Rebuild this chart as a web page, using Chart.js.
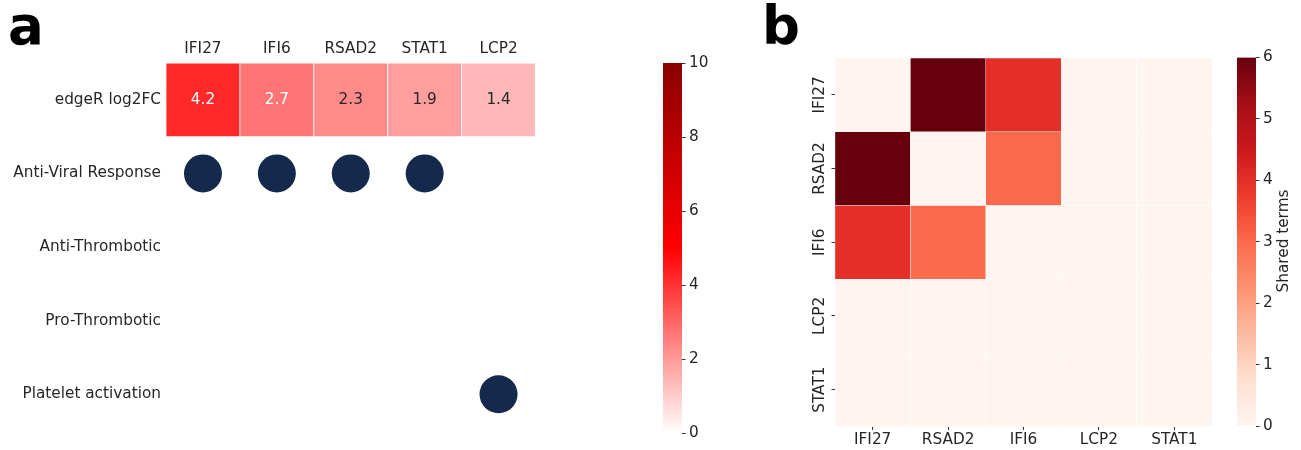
<!DOCTYPE html>
<html>
<head>
<meta charset="utf-8">
<script src="https://cdn.jsdelivr.net/npm/chart.js@4.4.1/dist/chart.umd.min.js"></script>
<style>
  body { margin: 0; background: #fff; width: 1301px; height: 450px; position: relative; overflow: hidden; font-family: 'DejaVu Sans', sans-serif; }
  canvas { position: absolute; top: 0; }
  .panel { position: absolute; font-family: 'DejaVu Sans', sans-serif; font-weight: bold; font-size: 53px; line-height: 53px; color: #000; }
  #cbarLabel { position: absolute; left: 1183px; top: 232px; width: 200px; text-align: center; font-size: 15.3px; line-height: 18px; color: #262626; transform: rotate(-90deg); }
</style>
</head>
<body>
<div class="panel" style="left:8px;top:-1px">a</div>
<div class="panel" style="left:762px;top:-1px">b</div>
<canvas id="chartA" width="560" height="450" style="left:0"></canvas>
<canvas id="cbarA" width="100" height="450" style="left:640px"></canvas>
<canvas id="chartB" width="460" height="450" style="left:760px"></canvas>
<canvas id="cbarB" width="81" height="450" style="left:1220px"></canvas>
<div id="cbarLabel">Shared terms</div>
<script>
// Panel a : genes x termes
const genesA = ['IFI27', 'IFI6', 'RSAD2', 'STAT1', 'LCP2'];
const termsA = ['edgeR log2FC', 'Anti-Viral Response', 'Anti-Thrombotic', 'Pro-Thrombotic', 'Platelet activation'];
const log2FC = [4.2, 2.7, 2.3, 1.9, 1.4];
const antiViral = [1, 1, 1, 1, 0];
const antiThrombotic = [0, 0, 0, 0, 0];
const proThrombotic = [0, 0, 0, 0, 0];
const plateletActivation = [0, 0, 0, 0, 1];
const cbarATicks = [0, 2, 4, 6, 8, 10];

// Panel b : termes partages entre genes
const genesB = ['IFI27', 'RSAD2', 'IFI6', 'LCP2', 'STAT1'];
const sharedIFI27 = [0, 6, 4, 0, 0];
const sharedRSAD2 = [6, 0, 3, 0, 0];
const sharedIFI6 = [4, 3, 0, 0, 0];
const sharedLCP2 = [0, 0, 0, 0, 0];
const sharedSTAT1 = [0, 0, 0, 0, 0];
const cbarBTicks = [0, 1, 2, 3, 4, 5, 6];

const FONT_SIZE = 15.3;
Chart.defaults.font.family = "'DejaVu Sans', sans-serif";
Chart.defaults.font.size = FONT_SIZE;
Chart.defaults.color = '#262626';

// Colormaps
const RED_STOPS = [[0, '#ffffff'], [0.5, '#ff0000'], [1, '#8b0000']];
const REDS_STOPS = [[0, '#fff5f0'], [0.125, '#fee0d2'], [0.25, '#fcbba1'], [0.375, '#fc9272'],
  [0.5, '#fb6a4a'], [0.625, '#ef3b2c'], [0.75, '#cb181d'], [0.875, '#a50f15'], [1, '#67000d']];

function hexToRgb(h) {
    const n = parseInt(h.slice(1), 16);
    return [(n >> 16) & 255, (n >> 8) & 255, n & 255];
}

function cmap(stops, t) {
    t = Math.max(0, Math.min(1, t));
    for (let i = 1; i < stops.length; i++) {
        if (t <= stops[i][0]) {
            const [t0, c0] = stops[i - 1];
            const [t1, c1] = stops[i];
            const f = (t - t0) / (t1 - t0);
            const a = hexToRgb(c0), b = hexToRgb(c1);
            return a.map((v, k) => Math.round(v + (b[k] - v) * f));
        }
    }
    return hexToRgb(stops[stops.length - 1][1]);
}

const rgbStr = c => `rgb(${c[0]}, ${c[1]}, ${c[2]})`;

function luminance(c) {
    const lin = c.map(v => {
        v /= 255;
        return v <= 0.03928 ? v / 12.92 : Math.pow((v + 0.055) / 1.055, 2.4);
    });
    return 0.2126 * lin[0] + 0.7152 * lin[1] + 0.0722 * lin[2];
}

const ticksFrom = labels => scale => {
    scale.ticks = labels.map((_, i) => ({ value: i }));
};

const tickMarks = { display: true, offset: false, drawOnChartArea: false, drawTicks: true, tickLength: 3.5, tickColor: '#333', lineWidth: 1 };

// Valeurs dans les cases du panel a
const cellLabels = {
    id: 'cellLabels',
    afterDatasetsDraw(chart) {
        const { ctx, scales: { x, y } } = chart;
        ctx.save();
        ctx.font = FONT_SIZE + "px 'DejaVu Sans'";
        ctx.textAlign = 'center';
        ctx.textBaseline = 'middle';
        log2FC.forEach((v, i) => {
            const c = cmap(RED_STOPS, v / 10);
            ctx.fillStyle = luminance(c) > 0.408 ? '#262626' : '#ffffff';
            ctx.fillText(v.toFixed(1), x.getPixelForValue(i), y.getPixelForValue(0));
        });
        ctx.restore();
    }
};

// Libelles verticaux du panel b
const rotatedRowLabels = {
    id: 'rotatedRowLabels',
    afterDraw(chart) {
        const { ctx, chartArea, scales: { y } } = chart;
        ctx.save();
        ctx.font = FONT_SIZE + "px 'DejaVu Sans'";
        ctx.fillStyle = '#262626';
        ctx.textAlign = 'center';
        ctx.textBaseline = 'middle';
        genesB.forEach((g, i) => {
            ctx.save();
            ctx.translate(chartArea.left - 15, y.getPixelForValue(i));
            ctx.rotate(-Math.PI / 2);
            ctx.fillText(g, 0, 0);
            ctx.restore();
        });
        ctx.restore();
    }
};

// Points du panel a
const dotRows = [null, antiViral, antiThrombotic, proThrombotic, plateletActivation];
const dots = [];
dotRows.forEach((row, r) => {
    if (!row) return;
    row.forEach((v, c) => { if (v) dots.push({ x: c, y: r }); });
});

new Chart(document.getElementById('chartA'), {
    type: 'bar',
    data: {
        datasets: [
            {
                type: 'bar',
                data: log2FC.map((v, i) => ({ x: i, y: [-0.5, 0.5] })),
                backgroundColor: log2FC.map(v => rgbStr(cmap(RED_STOPS, v / 10))),
                borderColor: 'rgba(255,255,255,0.85)',
                borderWidth: 0.75,
                borderSkipped: false,
                barPercentage: 1,
                categoryPercentage: 1
            },
            {
                type: 'scatter',
                data: dots,
                pointRadius: 19,
                pointHoverRadius: 19,
                backgroundColor: '#14294b',
                borderWidth: 0
            }
        ]
    },
    options: {
        responsive: false,
        animation: false,
        events: [],
        layout: { padding: { left: 0, top: 0, right: 24.5, bottom: 17 } },
        plugins: { legend: { display: false }, tooltip: { enabled: false } },
        scales: {
            x: {
                type: 'linear', position: 'top', min: -0.5, max: 4.5, offset: false,
                afterBuildTicks: ticksFrom(genesA),
                afterFit: s => { s.height = 63; },
                ticks: { callback: v => genesA[v], padding: 5, autoSkip: false, maxRotation: 0 },
                grid: { display: false, drawTicks: false, offset: false },
                border: { display: false }
            },
            y: {
                type: 'linear', reverse: true, min: -0.5, max: 4.5,
                afterBuildTicks: ticksFrom(termsA),
                afterFit: s => { s.width = 166; },
                ticks: { callback: v => termsA[v], padding: 5, autoSkip: false },
                grid: { display: false, drawTicks: false },
                border: { display: false }
            }
        }
    },
    plugins: [cellLabels]
});

const sharedRows = [sharedIFI27, sharedRSAD2, sharedIFI6, sharedLCP2, sharedSTAT1];

new Chart(document.getElementById('chartB'), {
    type: 'bar',
    data: {
        datasets: sharedRows.map((row, r) => ({
            data: row.map((v, c) => ({ x: c, y: [r - 0.5, r + 0.5] })),
            backgroundColor: row.map(v => rgbStr(cmap(REDS_STOPS, v / 6))),
            borderColor: 'rgba(255,255,255,0.7)',
            borderWidth: 0.5,
            borderSkipped: false,
            barPercentage: 1,
            categoryPercentage: 1,
            grouped: false
        }))
    },
    options: {
        responsive: false,
        animation: false,
        events: [],
        layout: { padding: { left: 0, top: 58, right: 8, bottom: 0 } },
        plugins: { legend: { display: false }, tooltip: { enabled: false } },
        scales: {
            x: {
                type: 'linear', position: 'bottom', min: -0.5, max: 4.5, offset: false,
                afterBuildTicks: ticksFrom(genesB),
                afterFit: s => { s.height = 23.5; },
                ticks: { callback: v => genesB[v], padding: 1, autoSkip: false, maxRotation: 0 },
                grid: tickMarks,
                border: { display: false }
            },
            y: {
                type: 'linear', reverse: true, min: -0.5, max: 4.5,
                afterBuildTicks: ticksFrom(genesB),
                afterFit: s => { s.width = 75; },
                ticks: { display: false },
                grid: tickMarks,
                border: { display: false }
            }
        }
    },
    plugins: [rotatedRowLabels]
});

function colorbar(canvasId, stops, tickValues, padding, axisWidth) {
    const max = tickValues[tickValues.length - 1];
    return new Chart(document.getElementById(canvasId), {
        type: 'bar',
        data: {
            labels: ['cb'],
            datasets: [{
                data: [[0, max]],
                backgroundColor: ctx => {
                    const area = ctx.chart.chartArea;
                    if (!area) return 'transparent';
                    const g = ctx.chart.ctx.createLinearGradient(0, area.bottom, 0, area.top);
                    stops.forEach(([t, c]) => g.addColorStop(t, c));
                    return g;
                },
                borderWidth: 0,
                barPercentage: 1,
                categoryPercentage: 1
            }]
        },
        options: {
            responsive: false,
            animation: false,
            events: [],
            layout: { padding: padding },
            plugins: { legend: { display: false }, tooltip: { enabled: false } },
            scales: {
                x: { display: false },
                y: {
                    position: 'right', min: 0, max: max,
                    afterBuildTicks: s => { s.ticks = tickValues.map(v => ({ value: v })); },
                    afterFit: s => { s.width = axisWidth; },
                    ticks: { padding: 3.5 },
                    grid: tickMarks,
                    border: { display: false }
                }
            }
        }
    });
}

colorbar('cbarA', RED_STOPS, cbarATicks, { left: 23, top: 63, right: 0, bottom: 17 }, 58);
colorbar('cbarB', REDS_STOPS, cbarBTicks, { left: 17, top: 57.5, right: 0, bottom: 24 }, 45);
</script>
</body>
</html>
